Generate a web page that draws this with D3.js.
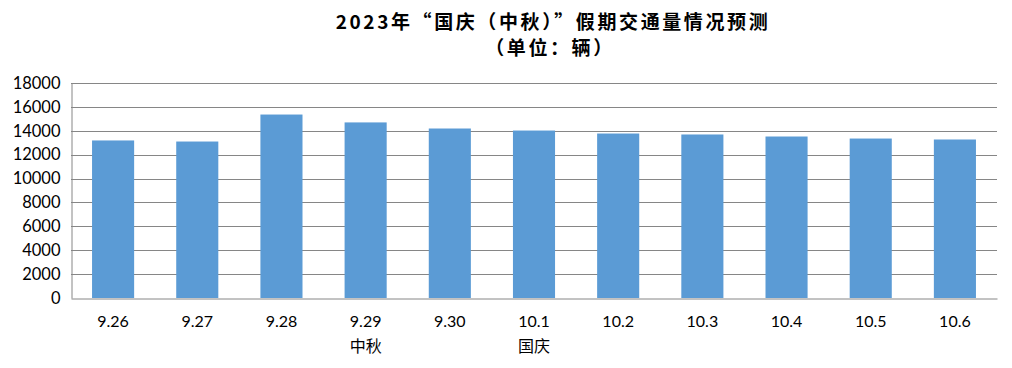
<!DOCTYPE html>
<html>
<head>
<meta charset="utf-8">
<script src="https://cdn.jsdelivr.net/npm/d3@7"></script>
<style>
  body { margin: 0; background: #fff; }
  svg { display: block; }
</style>
</head>
<body>
<div id="app"></div>
<script>
const days = ["9.26", "9.27", "9.28", "9.29", "9.30", "10.1", "10.2", "10.3", "10.4", "10.5", "10.6"];
const notes = ["", "", "", "中秋", "", "国庆", "", "", "", "", ""];
const volume = [13190, 13100, 15360, 14700, 14190, 14020, 13770, 13690, 13520, 13350, 13270];
const yTicks = [0, 2000, 4000, 6000, 8000, 10000, 12000, 14000, 16000, 18000];

let width = 1012,
    height = 368,
    plotLeft = 71,
    plotRight = 997,
    plotTop = 83,
    plotBottom = 298;

const svg = d3.select("#app").append("svg")
    .attr("width", width)
    .attr("height", height);

const x = d3.scaleBand()
    .domain(days)
    .range([plotLeft, plotRight])
    .paddingInner(0.5)
    .paddingOuter(0.25);

const y = d3.scaleLinear()
    .domain([0, 18000])
    .range([plotBottom, plotTop]);

// grid
svg.append("g")
    .selectAll("line")
    .data(yTicks.filter(d => d > 0))
    .join("line")
    .attr("x1", plotLeft)
    .attr("x2", plotRight)
    .attr("y1", d => Math.round(y(d)) + 0.5)
    .attr("y2", d => Math.round(y(d)) + 0.5)
    .attr("stroke", "#868686")
    .attr("stroke-width", 1);

// bars
svg.append("g")
    .selectAll("rect")
    .data(volume)
    .join("rect")
    .attr("x", (d, i) => x(days[i]))
    .attr("y", d => y(d))
    .attr("width", x.bandwidth())
    .attr("height", d => y(0) - y(d))
    .attr("fill", "#5B9BD5");

// y axis
const yAxis = svg.append("g")
    .attr("transform", `translate(${plotLeft + 0.5},0)`)
    .call(d3.axisLeft(y).tickValues(yTicks).tickFormat(d3.format("d")).tickSize(0).tickPadding(11));
yAxis.select(".domain").attr("stroke", "#868686");
yAxis.selectAll("text")
    .attr("font-family", "Lato, 'Liberation Sans', sans-serif")
    .attr("font-size", 16.5)
    .attr("fill", "#000");

// x axis
const xAxis = svg.append("g")
    .attr("transform", `translate(0,${plotBottom + 0.5})`)
    .call(d3.axisBottom(x).tickSize(0).tickPadding(17).tickSizeOuter(0));
xAxis.select(".domain").attr("stroke", "#868686");
xAxis.selectAll("text")
    .attr("font-family", "Lato, 'Liberation Sans', sans-serif")
    .attr("font-size", 16)
    .attr("fill", "#000");

svg.append("g")
    .selectAll("text")
    .data(notes)
    .join("text")
    .attr("x", (d, i) => x(days[i]) + x.bandwidth() / 2)
    .attr("y", 352)
    .attr("text-anchor", "middle")
    .attr("font-family", "'Noto Sans CJK SC', sans-serif")
    .attr("font-size", 16)
    .attr("fill", "#000")
    .text(d => d);

// title
const title = svg.append("g")
    .attr("font-family", "'Noto Sans CJK SC', serif")
    .attr("font-weight", "bold")
    .attr("font-size", 19)
    .attr("letter-spacing", 2.6)
    .attr("text-anchor", "middle")
    .attr("fill", "#000");
title.append("text").attr("x", 553).attr("y", 29).text("2023年“国庆（中秋）”假期交通量情况预测");
title.append("text").attr("x", 550).attr("y", 55).text("（单位：辆）");
</script>
</body>
</html>
